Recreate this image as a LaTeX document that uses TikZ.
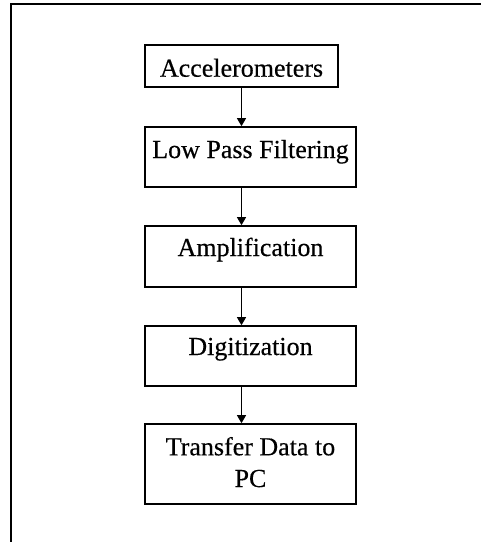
\documentclass[tikz,border=0pt]{standalone}
\usepackage{fontspec}
\setmainfont{Liberation Serif}[FakeBold=0.4]
\usetikzlibrary{arrows.meta}
\begin{document}
\begin{tikzpicture}[x=1pt,y=-1pt,
  stage/.style={draw,line width=1.6pt,rectangle,inner sep=0pt,align=center,
    font=\fontsize{26}{31.7}\selectfont},
  flow/.style={line width=1.1pt,-{Triangle[length=8pt,width=9pt]}}]
\useasboundingbox (0,0) rectangle (481,542);
% outer frame
\draw[line width=1.3pt] (481,4) -- (11,4) -- (11,542);
% stages (text height/depth set where the label sits off centre)
\node[stage,minimum width=193pt,minimum height=42pt,text height=22pt,text depth=0.6pt]
  (acc) at (241.5,66) {Accelerometers};
\node[stage,minimum width=211pt,minimum height=60pt,text height=12pt,text depth=10pt]
  (lpf) at (250.5,157) {Low Pass Filtering};
\node[stage,minimum width=211pt,minimum height=61pt,text height=12pt,text depth=13pt]
  (amp) at (250.5,256.5) {Amplification};
\node[stage,minimum width=211pt,minimum height=60pt,text height=12pt,text depth=14pt]
  (dig) at (250.5,356) {Digitization};
\node[stage,minimum width=211pt,minimum height=80pt,text height=48pt,text depth=2pt]
  (pc) at (250.5,464) {Transfer Data to\\PC};
% connectors
\draw[flow] (acc.south) -- (lpf.north -| acc.south);
\draw[flow] (lpf.south -| acc.south) -- (amp.north -| acc.south);
\draw[flow] (amp.south -| acc.south) -- (dig.north -| acc.south);
\draw[flow] (dig.south -| acc.south) -- (pc.north -| acc.south);
\end{tikzpicture}
\end{document}
